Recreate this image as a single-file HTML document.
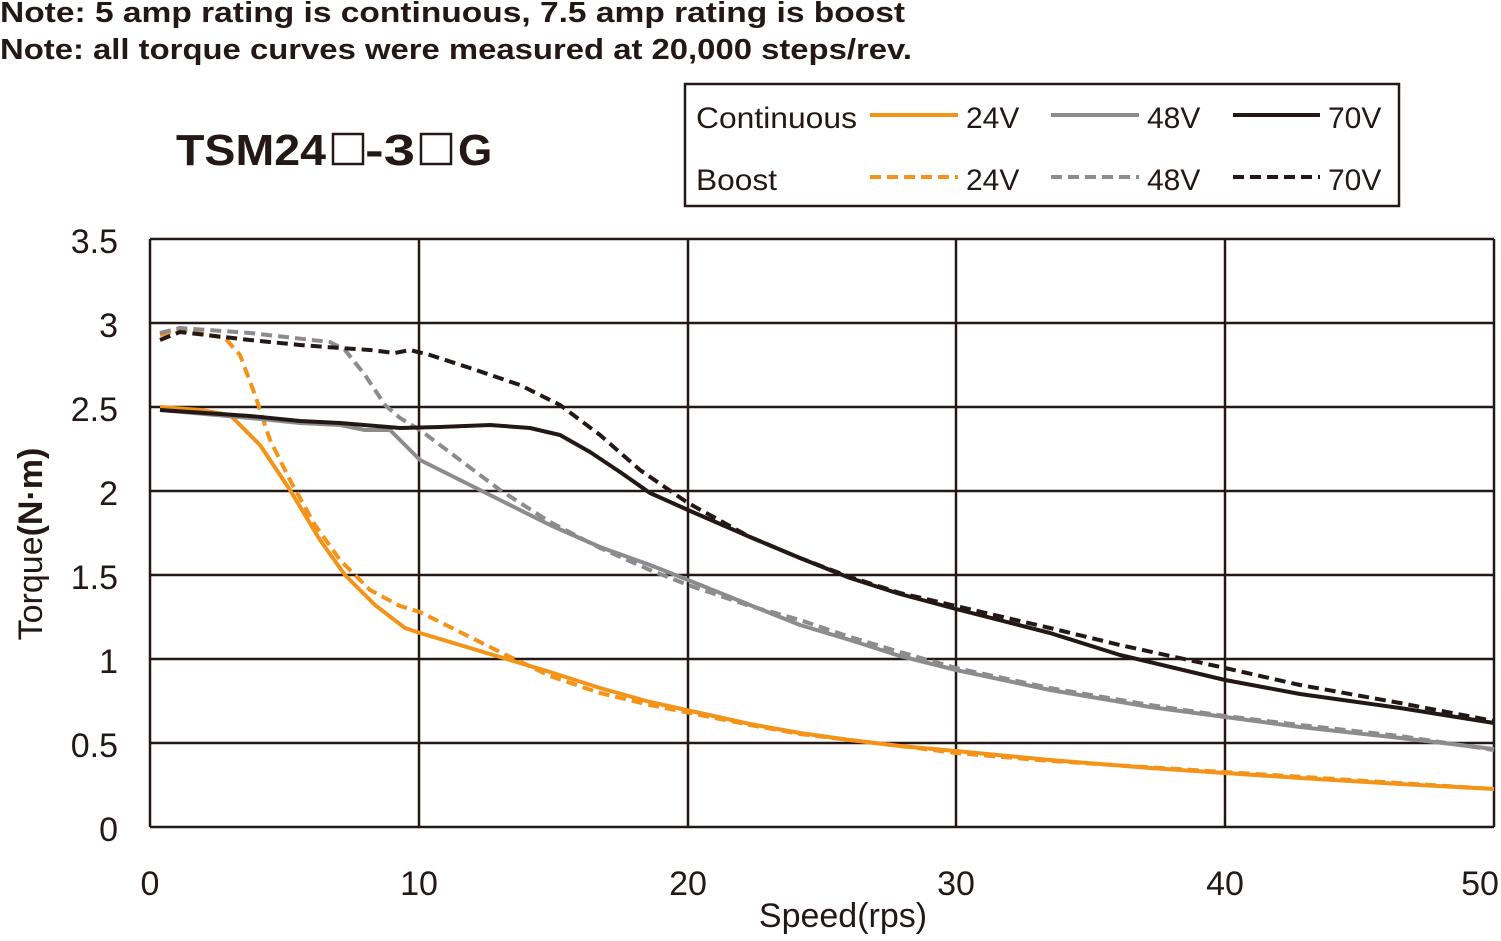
<!DOCTYPE html>
<html><head><meta charset="utf-8"><style>
body{margin:0;background:#fff;}
svg text{font-family:"Liberation Sans",Arial,sans-serif;fill:#231815;}
</style></head><body>
<svg width="1501" height="936" viewBox="0 0 1501 936" xmlns="http://www.w3.org/2000/svg">
<rect width="1501" height="936" fill="#fff"/>
<text x="0" y="22" font-size="29" font-weight="bold" textLength="905" lengthAdjust="spacingAndGlyphs">Note: 5 amp rating is continuous, 7.5 amp rating is boost</text>
<text x="0" y="59" font-size="29" font-weight="bold" textLength="912" lengthAdjust="spacingAndGlyphs">Note: all torque curves were measured at 20,000 steps/rev.</text>
<g font-size="44" font-weight="bold">
<text x="176" y="165" textLength="150" lengthAdjust="spacingAndGlyphs">TSM24</text>
<rect x="333" y="134" width="30" height="30" fill="none" stroke="#231815" stroke-width="2.5"/>
<text x="365" y="165" textLength="50" lengthAdjust="spacingAndGlyphs">-3</text>
<rect x="421" y="134" width="30" height="30" fill="none" stroke="#231815" stroke-width="2.5"/>
<text x="458" y="165">G</text>
</g>
<rect x="685" y="84" width="714" height="122" fill="#fff" stroke="#231815" stroke-width="2.5"/>
<g font-size="30">
<text x="696" y="128" textLength="161" lengthAdjust="spacingAndGlyphs">Continuous</text><text x="696" y="190" textLength="81" lengthAdjust="spacingAndGlyphs">Boost</text>
<text x="966" y="128">24V</text><text x="1147" y="128">48V</text><text x="1328" y="128">70V</text>
<text x="966" y="190">24V</text><text x="1147" y="190">48V</text><text x="1328" y="190">70V</text>
</g>
<g stroke-width="4" fill="none">
<line x1="870" y1="115" x2="958" y2="115" stroke="#f39419"/>
<line x1="1051" y1="115" x2="1139" y2="115" stroke="#8c8c8c"/>
<line x1="1233" y1="115" x2="1320" y2="115" stroke="#231815"/>
<line x1="870" y1="177" x2="958" y2="177" stroke="#f39419" stroke-dasharray="11,6"/>
<line x1="1051" y1="177" x2="1139" y2="177" stroke="#8c8c8c" stroke-dasharray="11,6"/>
<line x1="1233" y1="177" x2="1320" y2="177" stroke="#231815" stroke-dasharray="11,6"/>
</g>
<g stroke="#231815" stroke-width="2.5">
<line x1="150" y1="239" x2="1494" y2="239"/><line x1="150" y1="323" x2="1494" y2="323"/>
<line x1="150" y1="407" x2="1494" y2="407"/><line x1="150" y1="491" x2="1494" y2="491"/>
<line x1="150" y1="575" x2="1494" y2="575"/><line x1="150" y1="659" x2="1494" y2="659"/>
<line x1="150" y1="743" x2="1494" y2="743"/><line x1="150" y1="827" x2="1494" y2="827"/>
<line x1="150" y1="239" x2="150" y2="827"/><line x1="419" y1="239" x2="419" y2="827"/>
<line x1="688" y1="239" x2="688" y2="827"/><line x1="956" y1="239" x2="956" y2="827"/>
<line x1="1225" y1="239" x2="1225" y2="827"/><line x1="1494" y1="239" x2="1494" y2="827"/>
</g>
<g font-size="34" text-anchor="end">
<text x="118" y="253">3.5</text><text x="118" y="337">3</text><text x="118" y="421">2.5</text>
<text x="118" y="505">2</text><text x="118" y="589">1.5</text><text x="118" y="673">1</text>
<text x="118" y="757">0.5</text><text x="118" y="841">0</text>
</g>
<g font-size="34" text-anchor="middle">
<text x="150" y="895">0</text><text x="419" y="895">10</text><text x="688" y="895">20</text>
<text x="956" y="895">30</text><text x="1225" y="895">40</text><text x="1480" y="895">50</text>
<text x="843" y="927">Speed(rps)</text>
</g>
<text transform="translate(42,544) rotate(-90)" font-size="34" text-anchor="middle">Torque<tspan font-weight="bold">(N·m)</tspan></text>
<g fill="none" stroke-width="4" stroke-linejoin="round">
<polyline stroke="#f39419" points="160,407 200,410 230,415 260,445 290,490 320,540 345,575 375,605 405,628 420,633 460,645 500,657 550,672 600,688 650,702 700,713 750,724 800,733 850,740 900,746 956,751 1050,760 1150,768 1225,773 1300,778 1400,784 1494,789"/>
<polyline stroke="#f39419" stroke-dasharray="11,6" points="160,335 180,330 225,338 240,355 255,395 270,440 290,480 315,525 340,560 370,590 400,606 420,612 460,632 500,652 550,676 600,693 650,705 700,715 750,725 800,734 900,746 956,753 1050,761 1494,789"/>
<polyline stroke="#8c8c8c" points="160,410 250,418 300,423 340,425 365,430 390,430 405,445 420,460 460,480 500,500 550,525 600,547 650,565 688,580 750,605 800,625 850,640 900,656 956,670 1050,690 1150,707 1225,717 1300,727 1400,738 1494,749"/>
<polyline stroke="#8c8c8c" stroke-dasharray="11,6" points="160,333 180,328 250,333 330,342 345,350 365,375 385,405 400,418 420,430 460,460 500,490 550,522 600,548 650,570 688,585 750,606 800,620 850,637 900,652 956,668 1050,688 1150,705 1225,716 1300,725 1400,736 1494,750"/>
<polyline stroke="#231815" points="160,410 250,416 300,421 340,423 400,428 440,427 490,425 530,428 560,435 590,452 620,472 650,493 688,510 750,537 800,558 850,578 900,594 956,609 1050,633 1120,655 1225,680 1300,694 1400,708 1494,723"/>
<polyline stroke="#231815" stroke-dasharray="11,6" points="160,340 180,332 250,340 300,345 340,348 370,350 395,353 410,350 430,355 470,368 520,385 560,405 600,435 640,470 688,503 750,537 800,558 850,577 900,593 956,606 1050,628 1120,645 1225,668 1300,685 1400,703 1494,721"/>
</g>
</svg>
</body></html>
